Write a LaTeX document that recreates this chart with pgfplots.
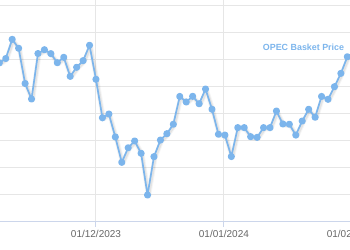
\documentclass[border=0pt]{standalone}
\usepackage{pgfplots}
\pgfplotsset{compat=1.18}
\usepackage{pgfplotstable}
\usepackage{fontspec}
\setmainfont{Liberation Sans}
\definecolor{linec}{HTML}{7CB5EC}
\definecolor{gridc}{HTML}{E6E6E6}
\definecolor{axisc}{HTML}{CCD6EB}
\definecolor{labelc}{HTML}{666666}
\pgfplotstableread{
i v
0 83.78
1 84.11
2 85.53
3 84.87
4 82.26
5 81.11
6 84.48
7 84.76
8 84.47
9 83.80
10 84.20
11 82.79
12 83.46
13 83.95
14 85.09
15 82.57
16 79.72
17 80.00
18 78.30
19 76.42
20 77.50
21 78.00
22 77.09
23 74.00
24 76.84
25 78.07
26 78.54
27 79.24
28 81.30
29 80.89
30 81.31
31 80.76
32 81.85
33 80.35
34 78.50
35 78.44
36 76.85
37 78.99
38 78.99
39 78.32
40 78.27
41 78.99
42 78.99
43 80.22
44 79.26
45 79.24
46 78.44
47 79.48
48 80.35
49 79.76
50 81.30
51 81.09
52 82.02
53 83.01
54 84.24
}\opec
\begin{document}
\begin{tikzpicture}
\begin{axis}[
  x=6.445pt, y=13.5pt,
  xmin=-2, xmax=57, ymin=72, ymax=90,
  axis x line*=bottom, axis y line*=left,
  y axis line style={draw=none},
  x axis line style={draw=axisc, line width=1pt},
  xtick={15,34.85,54.7},
  xticklabels={01/12/2023,01/01/2024,01/02/2024},
  ytick={72,74,...,90},
  yticklabels={},
  ytick style={draw=none},
  xtick style={draw=axisc, line width=1pt},
  tick align=outside, major tick length=5pt,
  xmajorgrids, ymajorgrids,
  grid style={draw=gridc, line width=1pt},
  xticklabel style={font=\fontsize{10}{12}\selectfont, text=labelc},
]
\addplot[black, opacity=0.04, line width=5pt, xshift=1pt, yshift=-1.2pt, mark=none, line join=round] table[x=i,y=v]{\opec};
\addplot[black, opacity=0.07, line width=3pt, xshift=1pt, yshift=-1.2pt, mark=none, line join=round] table[x=i,y=v]{\opec};
\addplot[linec, line width=1.7pt, line join=round, mark=*, mark size=2.7pt, mark options={fill=linec, draw=none}] table[x=i,y=v]{\opec};
\node[font=\bfseries\fontsize{8.9}{10}\selectfont, text=linec] at (axis cs:47.2,84.96) {OPEC Basket Price};
\coordinate (bl) at (axis cs:0.1086,69.926);
\coordinate (tr) at (axis cs:54.414,88.444);
\end{axis}
\pgfresetboundingbox
\useasboundingbox (bl) rectangle (tr);
\end{tikzpicture}
\end{document}
